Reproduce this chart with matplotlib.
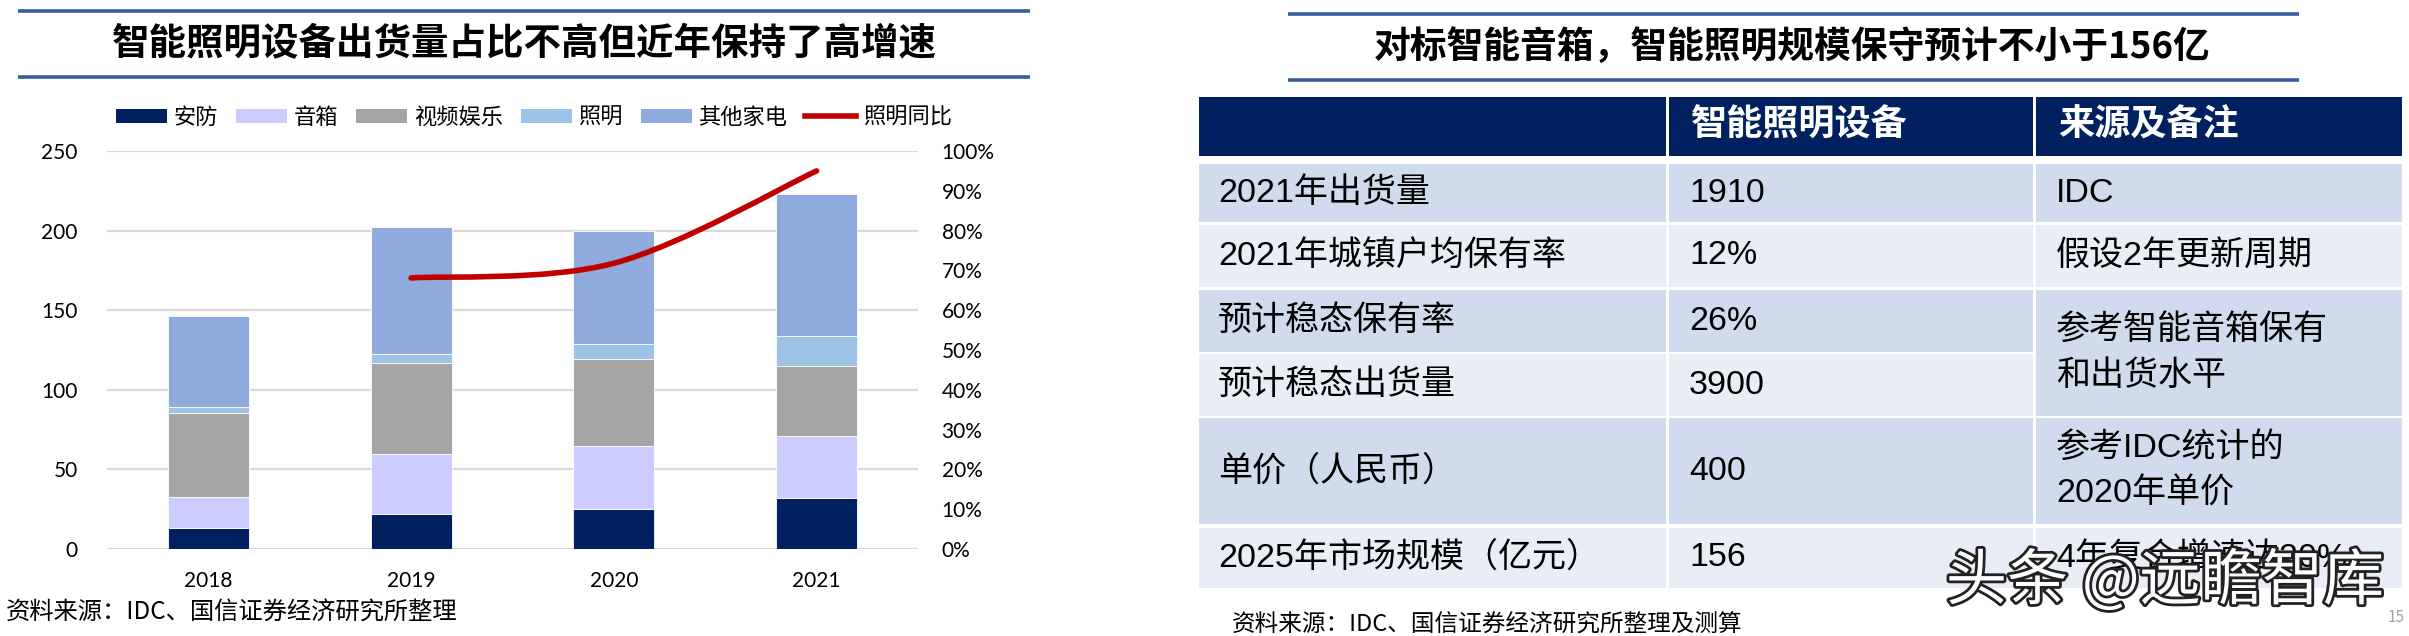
import matplotlib.pyplot as plt
import matplotlib.patheffects as pe
import numpy as np
from matplotlib.lines import Line2D
from matplotlib.patches import Patch, PathPatch, Rectangle
from matplotlib.path import Path
from matplotlib.ticker import PercentFormatter

CJK = "Noto Sans CJK SC"
NUM = ["Lato", CJK, "DejaVu Sans"]
TAB = ["Liberation Sans", CJK, "DejaVu Sans"]
plt.rcParams["font.family"] = [CJK, "DejaVu Sans"]

# --- left chart data: shipments by device type (stacked) + lighting yoy ---
years = ["2018", "2019", "2020", "2021"]
seg_names = ["安防", "音箱", "视频娱乐", "照明", "其他家电"]
security = [13.0, 21.8, 25.1, 32.0]
speaker = [19.7, 37.7, 39.8, 38.8]
video = [52.9, 57.1, 54.2, 43.9]
lighting = [3.6, 5.9, 9.7, 19.1]
other = [56.9, 79.8, 71.2, 89.0]
yoy_years = ["2019", "2020", "2021"]
yoy = [0.681, 0.718, 0.950]
yoy_name = "照明同比"
seg_colors = ["#002060", "#CCCCFF", "#A5A5A5", "#9DC3E6", "#8FAADC"]

left_title = "智能照明设备出货量占比不高但近年保持了高增速"
left_source = "资料来源：IDC、国信证券经济研究所整理"

# --- right table ---
right_title = "对标智能音箱，智能照明规模保守预计不小于156亿"
header = ["", "智能照明设备", "来源及备注"]
row_labels = ["2021年出货量", "2021年城镇户均保有率", "预计稳态保有率",
              "预计稳态出货量", "单价（人民币）", "2025年市场规模（亿元）"]
row_values = ["1910", "12%", "26%", "3900", "400", "156"]
notes = ["IDC", "假设2年更新周期", "参考智能音箱保有\n和出货水平",
         "参考IDC统计的\n2020年单价", "4年复合增速达20%"]
note_rows = [(0, 0), (1, 1), (2, 3), (4, 4), (5, 5)]
right_source = "资料来源：IDC、国信证券经济研究所整理及测算"

W, H = 2409, 636
fig = plt.figure(figsize=(W / 100, H / 100), dpi=100)

ov = fig.add_axes([0, 0, 1, 1], zorder=-1)
ov.set_xlim(0, W)
ov.set_ylim(H, 0)
ov.axis("off")

# title bands
line_blue = "#3A5DA0"
for y in (11, 77):
    ov.plot([18, 1030], [y, y], color=line_blue, lw=2.6, solid_capstyle="butt")
for y in (14, 80):
    ov.plot([1288, 2299], [y, y], color=line_blue, lw=2.6, solid_capstyle="butt")
ov.text(524, 44, left_title, ha="center", va="center", fontsize=27, fontweight="bold")
ov.text(1792, 48, right_title, ha="center", va="center", fontsize=26.5, fontweight="bold")

# --- stacked bars ---
ax = fig.add_axes([107 / W, 1 - 549 / H, 811 / W, 398 / H])
x = np.arange(len(years))
bottom = np.zeros(len(years))
for name, vals, col in zip(seg_names, [security, speaker, video, lighting, other], seg_colors):
    ax.bar(x, vals, width=0.4, bottom=bottom, color=col, edgecolor="white", linewidth=0.6,
           label=name, zorder=3)
    bottom += np.array(vals)

ax.set_xlim(-0.5, 3.5)
ax.set_ylim(0, 250)
ax.set_yticks(range(0, 251, 50))
ax.set_xticks(x, years)
ax.yaxis.grid(True, color="#D9D9D9", lw=1.6)
ax.set_axisbelow(True)
for s in ax.spines.values():
    s.set_visible(False)
ax.tick_params(axis="y", length=0, pad=21, labelsize=15)
ax.tick_params(axis="x", length=0, pad=16, labelsize=15)
for lab in ax.get_xticklabels() + ax.get_yticklabels():
    lab.set_family(NUM)
ax.patch.set_alpha(0)

ax2 = ax.twinx()
ax2.set_ylim(0, 1)
ax2.set_yticks(np.linspace(0, 1, 11))
ax2.yaxis.set_major_formatter(PercentFormatter(1.0, decimals=0))
ax2.tick_params(axis="y", length=0, pad=17, labelsize=15)
for lab in ax2.get_yticklabels():
    lab.set_family(NUM)
for s in ax2.spines.values():
    s.set_visible(False)

# smooth line (Excel-style), Bezier through the data points
xp = np.array([years.index(y) for y in yoy_years], dtype=float)
pts = np.column_stack([xp, yoy])
ext = np.vstack([pts[0], pts, pts[-1]])
verts, codes = [pts[0]], [Path.MOVETO]
for i in range(len(pts) - 1):
    p0, p1, p2, p3 = ext[i], ext[i + 1], ext[i + 2], ext[i + 3]
    verts += [p1 + (p2 - p0) / 6, p2 - (p3 - p1) / 6, p2]
    codes += [Path.CURVE4] * 3
ax2.add_patch(PathPatch(Path(verts, codes), fill=False, edgecolor="#C00000", lw=4,
                        capstyle="round", zorder=5))

handles = [Patch(facecolor=c, label=n) for n, c in zip(seg_names, seg_colors)]
handles.append(Line2D([], [], color="#C00000", lw=4, label=yoy_name))
fig.legend(handles=handles, loc="center", bbox_to_anchor=(534 / W, 1 - 117 / H), ncol=6,
           frameon=False, fontsize=16, handlelength=2.3, handleheight=0.6,
           handletextpad=0.3, columnspacing=0.8)

ov.text(6, 613, left_source, ha="left", va="center", fontsize=17.5)

# --- table ---
cols = [(1199, 1666), (1669, 2033), (2036, 2402)]
rows = [(97, 156), (164, 222), (225, 287), (290, 352), (354, 416), (418, 524), (528, 588)]
dark, light, navy = "#D0DBEE", "#E9EDF5", "#002060"


def cell(c0, c1, r0, r1, color):
    ov.add_patch(Rectangle((c0, r0), c1 - c0, r1 - r0, facecolor=color, edgecolor="none"))


for j, (c0, c1) in enumerate(cols):
    cell(c0, c1, *rows[0], navy)
    ov.text(c0 + 22, sum(rows[0]) / 2, header[j], ha="left", va="center", color="white",
            fontsize=26, fontweight="bold", family=TAB)

for i in range(len(row_labels)):
    r0, r1 = rows[i + 1]
    col = dark if i % 2 == 0 else light
    for c0, c1 in cols[:2]:
        cell(c0, c1, r0, r1, col)
    ym = (r0 + r1) / 2
    ov.text(1218, ym, row_labels[i], ha="left", va="center", fontsize=24.5, family=TAB)
    ov.text(1689, ym, row_values[i], ha="left", va="center", fontsize=24.5, family=TAB)

for text, (a, b) in zip(notes, note_rows):
    r0, r1 = rows[a + 1][0], rows[b + 1][1]
    col = dark if a % 2 == 0 else light
    cell(*cols[2], r0, r1, col)
    ov.text(2056, (r0 + r1) / 2, text, ha="left", va="center", fontsize=24.5, family=TAB,
            linespacing=1.55)

ov.text(1232, 625, right_source, ha="left", va="center", fontsize=17)

ov.text(2165, 582, "头条 @远瞻智库", ha="center", va="center", fontsize=44, color="white",
        path_effects=[pe.withStroke(linewidth=4, foreground="#222222")])
ov.text(2396, 617, "15", ha="center", va="center", fontsize=11, color="#A0A0A0")

fig.savefig("out.png", dpi=100)
